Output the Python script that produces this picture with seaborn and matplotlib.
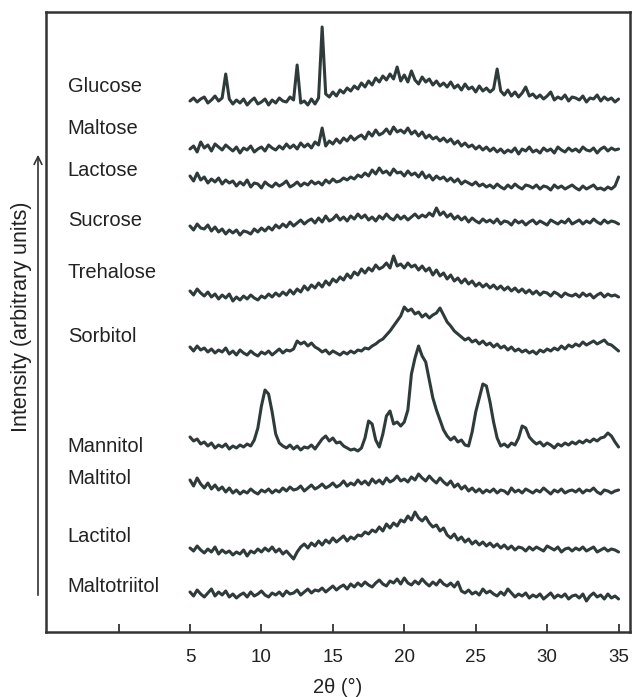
import numpy as np
import pandas as pd
import seaborn as sns
import matplotlib.pyplot as plt

# angles 5..35 step 0.25 (121 points)
angles = np.arange(5, 35.001, 0.25)

samples = ["Glucose", "Maltose", "Lactose", "Sucrose", "Trehalose",
           "Sorbitol", "Mannitol", "Maltitol", "Lactitol", "Maltotriitol"]

glucose = [0, 3, -1, 2, 4, -2, 1, 5, 0, 3, 27, 2,
           -3, 1, -2, 2, -4, 0, 3, -3, -1, 2, -4, 1,
           -2, 3, 0, -1, 4, 1, 36, -2, 0, -4, 2, -3,
           3, 74, 7, 4, 9, 5, 11, 8, 13, 10, 15, 12,
           18, 14, 20, 16, 23, 19, 25, 21, 27, 22, 34, 20,
           26, 19, 30, 21, 17, 24, 19, 22, 16, 20, 15, 18,
           14, 19, 13, 16, 11, 17, 12, 14, 9, 15, 10, 13,
           9, 12, 32, 10, 6, 11, 5, 9, 4, 8, 14, 5,
           7, 3, 6, 2, 5, 9, 1, 4, 2, 6, 0, 4,
           3, 1, 5, -1, 3, 2, 6, 0, 4, 1, 3, -1,
           2]

maltose = [1, 4, -2, 8, 2, 5, -1, 6, 3, 0, 5, 2,
           -1, 3, -3, 2, 0, 4, -2, 1, 3, -1, 5, 2,
           0, 4, 1, 6, 2, 5, 1, 7, 3, 6, 2, 8,
           5, 22, 4, 9, 6, 11, 7, 12, 9, 14, 10, 13,
           15, 11, 18, 14, 20, 15, 17, 21, 16, 23, 18, 20,
           17, 22, 16, 19, 14, 18, 12, 15, 11, 13, 9, 12,
           8, 11, 6, 9, 4, 7, 3, 5, 1, 4, 0, 3,
           -1, 2, -2, 1, -3, 0, -2, 2, -4, 1, -1, 3,
           -2, 0, -3, 2, -1, 1, -3, 3, 0, -2, 2, -1,
           1, -2, 3, 0, -1, 2, -3, 1, 3, -1, 2, 0,
           1]

lactose = [9, 4, 12, 5, 8, 2, 6, 3, 7, 1, 5, 2,
           4, -1, 3, 0, 5, -2, 2, 1, -3, 3, 0, -2,
           2, -1, 1, 4, -2, 0, 3, -1, 2, 0, 4, 1,
           3, 0, 5, 2, 6, 3, 4, 7, 5, 8, 6, 10,
           8, 12, 9, 15, 11, 17, 12, 14, 10, 16, 12, 13,
           9, 14, 10, 12, 8, 13, 7, 10, 5, 9, 6, 8,
           4, 7, 3, 6, 1, 4, 2, 0, 3, -1, 1, -2,
           0, -3, 1, -2, -4, 0, -3, 1, -2, -4, 0, -1,
           -3, 0, -4, -1, -2, -5, 0, -3, -1, -4, -2, 0,
           -3, -5, -1, -4, -2, 0, -4, -3, -5, -2, -4, -1,
           8]

sucrose = [2, -2, 4, 0, -1, 3, -3, 1, -4, -1, -6, -2,
           -5, -2, -7, -3, -4, -6, -1, -4, 0, -3, 1, -2,
           3, 0, 4, 1, 6, 2, 5, 8, 4, 7, 9, 5,
           10, 6, 12, 7, 9, 13, 8, 11, 7, 12, 9, 14,
           10, 13, 8, 11, 7, 12, 9, 14, 10, 8, 13, 9,
           12, 8, 11, 14, 10, 13, 11, 15, 12, 20, 13, 16,
           11, 14, 9, 12, 8, 11, 6, 10, 7, 5, 9, 6,
           8, 5, 9, 4, 7, 6, 3, 8, 5, 7, 3, 6,
           8, 4, 7, 5, 3, 8, 6, 4, 7, 5, 9, 4,
           6, 8, 4, 7, 5, 9, 6, 4, 8, 5, 7, 6,
           4]

trehalose = [5, 1, 7, 3, 0, 4, -1, 2, -3, 1, -2, 2,
             -5, -1, -4, 0, -3, 1, -2, -4, 0, -2, 2, -1,
             3, 0, 4, 1, 6, 2, 7, 4, 10, 6, 11, 8,
             13, 9, 15, 11, 17, 14, 19, 16, 22, 18, 24, 21,
             27, 23, 28, 25, 31, 27, 29, 33, 28, 40, 30, 32,
             28, 33, 29, 31, 26, 30, 25, 28, 21, 26, 20, 23,
             17, 21, 15, 18, 13, 17, 12, 15, 10, 13, 9, 12,
             8, 11, 7, 10, 6, 9, 5, 8, 4, 7, 3, 6,
             2, 5, 1, 4, 3, 0, 4, 2, -1, 3, 1, 0,
             2, -1, 3, 0, 2, -2, 1, 3, -1, 2, 0, 1,
             -1]

sorbitol = [5, 1, 6, 2, 4, 0, 3, -1, 2, 0, 4, -2,
            1, -3, 2, -1, -3, 1, -2, -4, 0, -2, 1, -3,
            0, 3, -1, 2, 1, 3, 11, 8, 10, 6, 9, 5,
            3, 0, 2, -2, 1, -1, -3, 0, -2, 1, -1, 2,
            1, 4, 3, 6, 8, 11, 13, 17, 21, 26, 31, 36,
            45, 41, 43, 38, 40, 35, 38, 34, 37, 39, 44, 37,
            30, 26, 21, 18, 15, 12, 14, 10, 12, 8, 11, 7,
            9, 5, 8, 4, 6, 2, 5, 1, 3, 0, 2, -1,
            1, -2, 2, 0, 3, 1, 4, 2, 6, 3, 7, 5,
            8, 6, 10, 7, 9, 11, 8, 10, 12, 8, 7, 4,
            1]

mannitol = [9, 5, 7, 2, 4, 0, 3, -2, 1, -1, 2, -3,
            0, -2, 1, -1, 2, 0, 6, 18, 40, 56, 52, 34,
            12, 3, 0, -2, 1, -3, 0, -4, -1, -2, 1, -3,
            2, 7, 10, 5, 8, 3, 4, 0, -2, -4, -3, -5,
            -2, 8, 25, 22, 6, -1, 12, 30, 35, 22, 24, 20,
            24, 36, 72, 88, 100, 90, 84, 66, 48, 36, 26, 16,
            10, 6, 9, 4, 6, 1, 0, 14, 34, 48, 62, 60,
            44, 24, 8, 0, 2, -1, 3, 1, 8, 20, 18, 9,
            5, 2, 4, 0, 3, 1, -2, 2, 0, 3, 1, 4,
            2, 5, 3, 6, 4, 7, 5, 8, 9, 13, 10, 4,
            -1]

maltitol = [10, 4, 12, 6, 2, 7, 1, 5, 0, 3, -2, 2,
            -3, 0, -4, -1, -3, 1, -2, -4, 0, -2, 1, -3,
            0, -2, 2, -1, 3, 0, 1, 4, -1, 2, 5, 1,
            3, 6, 2, 4, 7, 3, 5, 9, 4, 7, 5, 10,
            6, 9, 5, 11, 7, 10, 6, 12, 8, 10, 14, 9,
            11, 8, 13, 10, 16, 12, 9, 14, 10, 7, 12, 8,
            5, 9, 3, 6, 1, 4, -1, 2, -2, 1, -3, 0,
            -2, 1, -3, 0, -1, -4, 2, -2, 0, -3, 1, -1,
            -3, 0, -2, 2, -1, -4, 0, -2, 1, -3, -1, 0,
            -2, 1, -3, 0, -1, 2, -2, -4, 0, -1, -3, -1,
            0]

lactitol = [2, -1, 4, 0, -3, 1, -2, 3, -4, 0, -3, -1,
            -5, -2, -4, 0, -6, -1, -3, 1, -2, 2, -1, 3,
            -2, 1, -4, -1, -5, -9, -2, 3, 6, 2, 7, 4,
            9, 5, 10, 7, 12, 8, 11, 14, 9, 13, 11, 15,
            14, 18, 16, 20, 18, 23, 19, 26, 22, 27, 24, 30,
            28, 34, 30, 38, 32, 29, 33, 27, 23, 25, 19, 22,
            15, 12, 16, 10, 13, 8, 11, 6, 9, 5, 8, 4,
            7, 3, 6, 2, 5, 1, 4, 0, 3, 2, -1, 3,
            0, 3, 1, -1, 4, 2, 0, 3, -2, 1, 2, -1,
            2, 0, 3, -1, 1, 3, -2, 0, 2, -1, 1, 0,
            -2]

maltotriitol = [3, -1, 5, 1, -2, 2, 6, -1, 3, 0, 4, -2,
                1, -3, 0, 2, -2, 3, -1, 1, 4, 0, -2, 2,
                0, 3, -1, 4, 1, 2, 5, 0, 3, 6, 2, 5,
                4, 7, 3, 6, 9, 5, 8, 10, 6, 11, 8, 12,
                9, 13, 10, 8, 12, 15, 11, 9, 14, 12, 16, 11,
                17, 12, 10, 14, 11, 16, 12, 9, 13, 10, 15, 11,
                9, 12, 8, 13, 4, 2, 5, 1, 3, 0, 6, 2,
                4, 1, -1, 3, 0, 6, 2, -2, 1, -1, 2, -3,
                0, -2, 1, -4, -1, 2, -3, 0, -2, 1, -4, -1,
                0, -3, 1, -6, -1, 2, -2, 0, -4, 1, -3, -1,
                -4]

patterns = [glucose, maltose, lactose, sucrose, trehalose,
            sorbitol, mannitol, maltitol, lactitol, maltotriitol]

# stacking: vertical offset of each trace (axis units = px from bottom)
offsets = [531, 482, 447, 404, 336, 280, 186, 142, 82, 37]
label_y = [545, 504, 462, 411, 359, 296, 186, 154, 95, 46]

xticks = [0, 5, 10, 15, 20, 25, 30, 35]
xticklabels = ["", "5", "10", "15", "20", "25", "30", "35"]

rows = []
for name, vals, off in zip(samples, patterns, offsets):
    for a, v in zip(angles, vals):
        rows.append({"angle": a, "intensity": v + off, "sample": name})
df = pd.DataFrame(rows)

sns.set_style("white")
plt.rcParams["font.family"] = ["Liberation Sans", "DejaVu Sans"]

fig = plt.figure(figsize=(6.32, 6.97), dpi=100)
ax = fig.add_axes([46 / 632, 65 / 697, 584 / 632, 620 / 697])

line_col = "#2f3b3b"
for name in samples:
    sub = df[df["sample"] == name]
    sns.lineplot(data=sub, x="angle", y="intensity", ax=ax, color=line_col,
                 lw=2.2, estimator=None, legend=False)

for name, yy in zip(samples, label_y):
    ax.text(-3.55, yy, name, fontsize=14.5, color="#222222",
            va="center", ha="left")

ax.set_xlim(-5.08, 35.8)
ax.set_ylim(0, 620)
ax.set_yticks([])
ax.set_xticks(xticks)
ax.set_xticklabels(xticklabels, fontsize=13.5, color="#222222")
ax.tick_params(axis="x", bottom=True, direction="in", length=6, width=1.3,
               color="#333333", pad=12)
ax.set_xlabel("2θ (°)", fontsize=14.5, color="#222222", labelpad=9)
ax.set_ylabel("")
for s in ax.spines.values():
    s.set_color("#333333")
    s.set_linewidth(1.8)

fig.text(22 / 632, (697 - 317) / 697, "Intensity (arbitrary units)",
         rotation=90, fontsize=15.5, color="#222222", ha="center", va="center")
fig.patches.append(plt.matplotlib.patches.FancyArrowPatch(
    (38 / 632, (697 - 598) / 697), (38 / 632, (697 - 152) / 697),
    transform=fig.transFigure, arrowstyle="->", mutation_scale=14,
    lw=1.2, color="#333333"))

fig.savefig("out.png", dpi=100)
